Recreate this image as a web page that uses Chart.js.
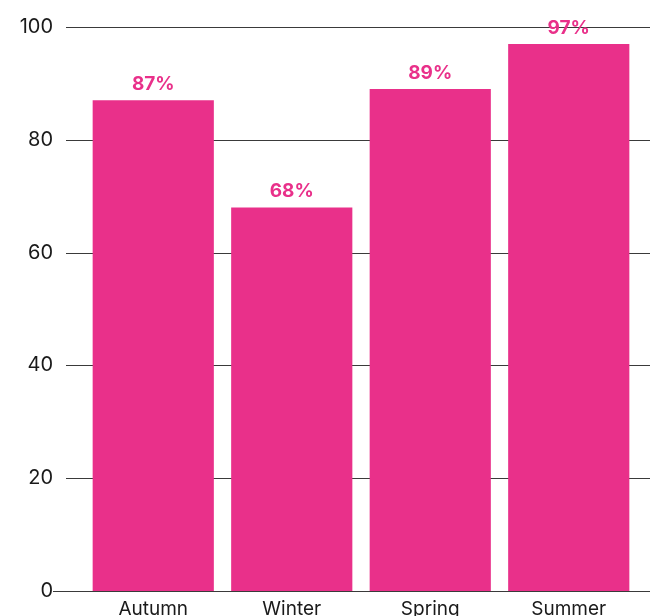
<!DOCTYPE html>
<html>
<head>
<meta charset="utf-8">
<script src="https://cdn.jsdelivr.net/npm/chart.js@4"></script>
<style>
  html, body { margin: 0; padding: 0; background: #fff; overflow: hidden; }
  canvas { display: block; }
</style>
</head>
<body>
<canvas id="seasonChart" width="650" height="616"></canvas>
<script>
var seasons = ['Autumn', 'Winter', 'Spring', 'Summer'];
var percentages = [87, 68, 89, 97];
var yTicks = [0, 20, 40, 60, 80, 100];

var pink = '#e9308a';

// horizontal rules behind the bars, running past the plot edges
var gridRules = {
    id: 'gridRules',
    beforeDatasetsDraw: function(chart) {
        var ctx = chart.ctx;
        var y = chart.scales.y;
        ctx.save();
        ctx.strokeStyle = '#3a3a3a';
        ctx.lineWidth = 1.2;
        yTicks.forEach(function(v) {
            var py = Math.round(y.getPixelForValue(v)) + 0.5;
            ctx.beginPath();
            ctx.moveTo(v === 0 ? 53 : 66, py);
            ctx.lineTo(chart.width, py);
            ctx.stroke();
        });
        ctx.restore();
    }
};

// percentage labels over each bar
var barLabels = {
    id: 'barLabels',
    afterDatasetsDraw: function(chart) {
        var ctx = chart.ctx;
        var meta = chart.getDatasetMeta(0);
        ctx.save();
        ctx.font = 'bold 19px Inter, "Noto Sans", sans-serif';
        ctx.fillStyle = pink;
        ctx.textAlign = 'center';
        ctx.textBaseline = 'middle';
        meta.data.forEach(function(bar, i) {
            ctx.fillText(percentages[i] + '%', bar.x, bar.y - 16);
        });
        ctx.restore();
    }
};

var ctx = document.getElementById('seasonChart').getContext('2d');
var seasonChart = new Chart(ctx, {
    type: 'bar',
    data: {
        labels: seasons,
        datasets: [{
            data: percentages,
            backgroundColor: pink,
            borderWidth: 0,
            barPercentage: 0.875,
            categoryPercentage: 1
        }]
    },
    options: {
        responsive: false,
        animation: false,
        layout: { padding: { top: 27, right: 12, left: 0, bottom: 0 } },
        plugins: {
            legend: { display: false },
            tooltip: { enabled: false }
        },
        scales: {
            x: {
                grid: { display: false, drawTicks: false },
                border: { display: false },
                ticks: {
                    color: '#1a1a1a',
                    padding: 7,
                    font: { family: 'Inter, "Noto Sans", sans-serif', size: 19 }
                },
                afterFit: function(scale) { scale.height = 25; }
            },
            y: {
                min: 0,
                max: 100,
                grid: { display: false, drawTicks: false },
                border: { display: false },
                ticks: {
                    stepSize: 20,
                    color: '#1a1a1a',
                    padding: 31,
                    font: { family: 'Inter, "Noto Sans", sans-serif', size: 20 }
                },
                afterFit: function(scale) {
                    // the wide label gap is horizontal only
                    scale.width = 84;
                    scale.paddingTop = 0;
                    scale.paddingBottom = 0;
                }
            }
        }
    },
    plugins: [gridRules, barLabels]
});
</script>
</body>
</html>
